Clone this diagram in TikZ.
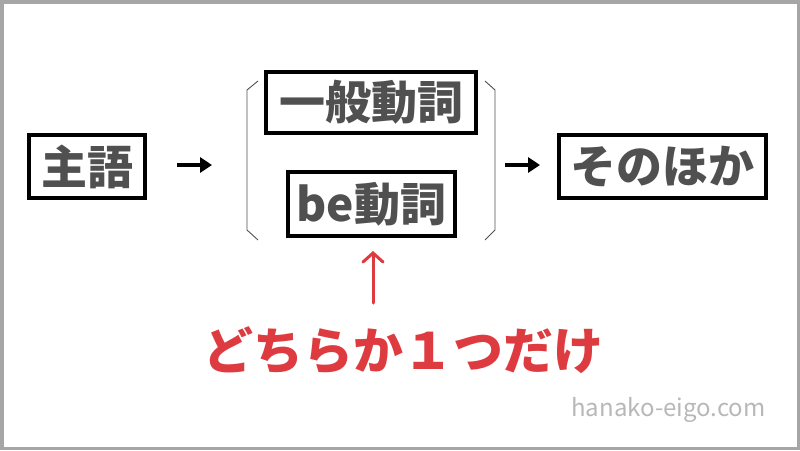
\documentclass[tikz,border=0pt]{standalone}
\usepackage{fontspec}
\setmainfont{Noto Sans CJK JP}
\usetikzlibrary{arrows.meta}
\definecolor{txtgray}{HTML}{505050}
\definecolor{myred}{HTML}{DD3B40}
\definecolor{framegray}{HTML}{A6A6A6}
\definecolor{wmgray}{HTML}{B8B8B8}
\tikzset{
  wordbox/.style={draw=black, line width=3.5pt, text=txtgray, inner sep=0pt, font=\fontsize{46}{50}\selectfont\bfseries, anchor=center},
  blackarrow/.style={line width=3.5pt, -{Triangle[length=12pt,width=15pt]}},
  bracket/.style={draw=txtgray, line width=0.9pt},
}
\begin{document}
\begin{tikzpicture}[x=1pt,y=-1pt]
\fill[framegray] (0,0) rectangle (800,450);
\fill[white] (3.5,3.5) rectangle (796.5,446.5);
\useasboundingbox (0,0) rectangle (800,450);
\node[wordbox, minimum width=116pt, minimum height=63pt] (shugo) at (87,166.5) {主語};
\node[wordbox, minimum width=210pt, minimum height=61pt] (ippan) at (371,102.5) {一般動詞};
\node[wordbox, minimum width=167pt, minimum height=64pt] (be) at (371.5,204) {be動詞};
\node[wordbox, minimum width=207pt, minimum height=63pt] (sono) at (662.5,166.5) {そのほか};
\coordinate (a1s) at (177,165);
\coordinate (a1e) at (212,165);
\coordinate (a2s) at (505,165);
\coordinate (a2e) at (540,165);
\draw[blackarrow] (a1s) -- (a1e);
\draw[blackarrow] (a2s) -- (a2e);
\draw[bracket] (258,81) -- (247,90) -- (247,230) -- (258,240);
\draw[bracket] (485,81) -- (495,90) -- (495,230) -- (485,240);
\node[text=myred, font=\fontsize{50}{54}\selectfont\bfseries, inner sep=0pt] (note) at (403.5,350) {どちらか１つだけ};
\coordinate (rs) at (373,303);
\coordinate (re) at (373,251);
\draw[myred, line width=3pt, line cap=round, -{Straight Barb[length=9pt,width=20pt,line cap=round]}] (rs) -- (re);
\node[text=wmgray, font=\fontsize{24}{28}\selectfont, inner sep=0pt] (wm) at (668.5,410) {hanako-eigo.com};
\end{tikzpicture}
\end{document}
